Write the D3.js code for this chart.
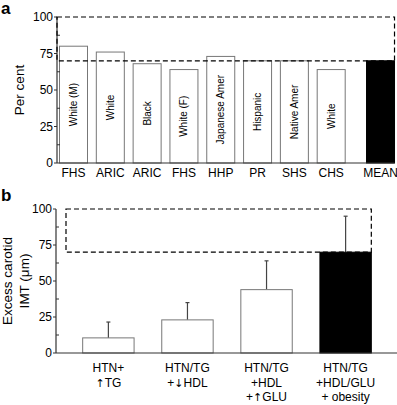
<!DOCTYPE html>
<html>
<head>
<meta charset="utf-8">
<script src="https://cdn.jsdelivr.net/npm/d3@7"></script>
<style>
  body { margin: 0; background: #fff; }
  svg { font-family: "Liberation Sans", Arial, sans-serif; }
</style>
</head>
<body>
<svg id="chart" width="397" height="405"></svg>
<script>
// Panel a: share of population studies
const studiesA = ["FHS", "ARIC", "ARIC", "FHS", "HHP", "PR", "SHS", "CHS", "MEAN"];
const groupsA = ["White (M)", "White", "Black", "White (F)", "Japanese Amer", "Hispanic", "Native Amer", "White", ""];
const valuesA = [80, 76, 68, 64, 73, 70, 70, 64, 70];

// Panel b: excess carotid IMT
const groupsB = [
    ["HTN+", "\u2191TG"],
    ["HTN/TG", "+\u2193HDL"],
    ["HTN/TG", "+HDL", "+\u2191GLU"],
    ["HTN/TG", "+HDL/GLU", "+ obesity"]
];
const valuesB = [10.5, 23, 44, 70];
const errorsB = [11, 12, 20, 25];

const yTicks = [0, 25, 50, 75, 100];
const yMinor = [12.5, 37.5, 62.5, 87.5];

const svg = d3.select("#chart");
const stroke = "#777";

function drawYAxis(g, y, x0) {
    g.append("line")
        .attr("x1", x0).attr("x2", x0)
        .attr("y1", y(0)).attr("y2", y(100))
        .attr("stroke", "#333").attr("stroke-width", 1.2);
    g.selectAll(".maj").data(yTicks).join("line")
        .attr("x1", x0 - 3).attr("x2", x0)
        .attr("y1", d => y(d)).attr("y2", d => y(d))
        .attr("stroke", "#333");
    g.selectAll(".min").data(yMinor).join("line")
        .attr("class", "min")
        .attr("x1", x0).attr("x2", x0 + 3)
        .attr("y1", d => y(d)).attr("y2", d => y(d))
        .attr("stroke", "#333");
    g.selectAll(".lab").data(yTicks).join("text")
        .attr("x", x0 - 4).attr("y", d => y(d))
        .attr("dy", "0.35em")
        .attr("text-anchor", "end")
        .attr("font-size", 12)
        .text(d => d);
}

// arrows drawn in a font with fuller arrow glyphs
const arrowify = s => s.replace(/([\u2191\u2193])/g, '<tspan font-family="DejaVu Sans" font-size="11">$1</tspan>');

// ---------- panel a ----------
const ga = svg.append("g");
const ya = d3.scaleLinear().domain([0, 100]).range([163, 17]);
// index scale, MEAN sits a bit further right
const xa = d3.scaleLinear().domain([0, 8]).range([73.5, 368]);
const posA = i => i === 8 ? xa(8.34) : xa(i);
const bwA = 28;

ga.append("text").attr("x", 1).attr("y", 14)
    .attr("font-size", 17).attr("font-weight", "bold").text("a");

ga.append("text")
    .attr("transform", `translate(24,${ya(50)}) rotate(-90)`)
    .attr("text-anchor", "middle").attr("font-size", 13.5)
    .text("Per cent");

ga.selectAll(".bar").data(valuesA).join("rect")
    .attr("x", (d, i) => posA(i) - bwA / 2)
    .attr("y", d => ya(d))
    .attr("width", bwA)
    .attr("height", d => ya(0) - ya(d))
    .attr("fill", (d, i) => i === 8 ? "#000" : "#fff")
    .attr("stroke", (d, i) => i === 8 ? "#000" : stroke);

ga.selectAll(".inlab").data(groupsA).join("text")
    .attr("transform", (d, i) => `translate(${posA(i)},${(ya(valuesA[i]) + ya(0)) / 2}) rotate(-90)`)
    .attr("text-anchor", "middle").attr("dy", "0.35em")
    .attr("font-size", 10)
    .text(d => d);

ga.append("line")
    .attr("x1", 57).attr("x2", posA(8) + bwA / 2)
    .attr("y1", ya(0)).attr("y2", ya(0))
    .attr("stroke", "#333").attr("stroke-width", 1.2);

ga.selectAll(".xlab").data(studiesA).join("text")
    .attr("x", (d, i) => posA(i)).attr("y", 177)
    .attr("text-anchor", "middle").attr("font-size", 12)
    .text(d => d);

drawYAxis(ga, ya, 57);

ga.append("rect")
    .attr("x", 57).attr("y", ya(100))
    .attr("width", posA(8) + bwA / 2 - 57)
    .attr("height", ya(70) - ya(100))
    .attr("fill", "none").attr("stroke", "#000")
    .attr("stroke-width", 1.2).attr("stroke-dasharray", "5,3");

// ---------- panel b ----------
const gb = svg.append("g");
const yb = d3.scaleLinear().domain([0, 100]).range([353, 209]);
const xb = d3.scaleBand().domain(d3.range(valuesB.length))
    .range([55, 399]).padding(0.35);

gb.append("text").attr("x", 1).attr("y", 201)
    .attr("font-size", 17).attr("font-weight", "bold").text("b");

const ylab = gb.append("text")
    .attr("transform", `translate(15,${yb(50)}) rotate(-90)`)
    .attr("text-anchor", "middle").attr("font-size", 13.5);
ylab.append("tspan").attr("x", 0).attr("dy", "-0.2em").text("Excess carotid");
ylab.append("tspan").attr("x", 0).attr("dy", "1.2em").text("IMT (\u03bcm)");

gb.selectAll(".err").data(valuesB).join("line")
    .attr("x1", (d, i) => xb(i) + xb.bandwidth() / 2)
    .attr("x2", (d, i) => xb(i) + xb.bandwidth() / 2)
    .attr("y1", d => yb(d))
    .attr("y2", (d, i) => yb(d + errorsB[i]))
    .attr("stroke", "#444").attr("stroke-width", 1.2);
gb.selectAll(".cap").data(valuesB).join("line")
    .attr("x1", (d, i) => xb(i) + xb.bandwidth() / 2 - 2)
    .attr("x2", (d, i) => xb(i) + xb.bandwidth() / 2 + 2)
    .attr("y1", (d, i) => yb(d + errorsB[i]))
    .attr("y2", (d, i) => yb(d + errorsB[i]))
    .attr("stroke", "#444").attr("stroke-width", 1.2);

gb.selectAll(".bar").data(valuesB).join("rect")
    .attr("x", (d, i) => xb(i))
    .attr("y", d => yb(d))
    .attr("width", xb.bandwidth())
    .attr("height", d => yb(0) - yb(d))
    .attr("fill", (d, i) => i === 3 ? "#000" : "#fff")
    .attr("stroke", (d, i) => i === 3 ? "#000" : stroke);

gb.append("line")
    .attr("x1", 56).attr("x2", 397)
    .attr("y1", yb(0)).attr("y2", yb(0))
    .attr("stroke", "#333").attr("stroke-width", 1.2);

gb.selectAll(".xlab").data(groupsB).join("text")
    .attr("text-anchor", "middle").attr("font-size", 12)
    .each(function (lines, i) {
        d3.select(this).selectAll("tspan").data(lines).join("tspan")
            .attr("x", xb(i) + xb.bandwidth() / 2)
            .attr("y", (d, k) => 372 + k * 14.5)
            .html(d => arrowify(d));
    });

drawYAxis(gb, yb, 56);

gb.append("rect")
    .attr("x", 66).attr("y", yb(100))
    .attr("width", xb(3) + xb.bandwidth() - 66)
    .attr("height", yb(70) - yb(100))
    .attr("fill", "none").attr("stroke", "#000")
    .attr("stroke-width", 1.2).attr("stroke-dasharray", "5,3");
</script>
</body>
</html>
